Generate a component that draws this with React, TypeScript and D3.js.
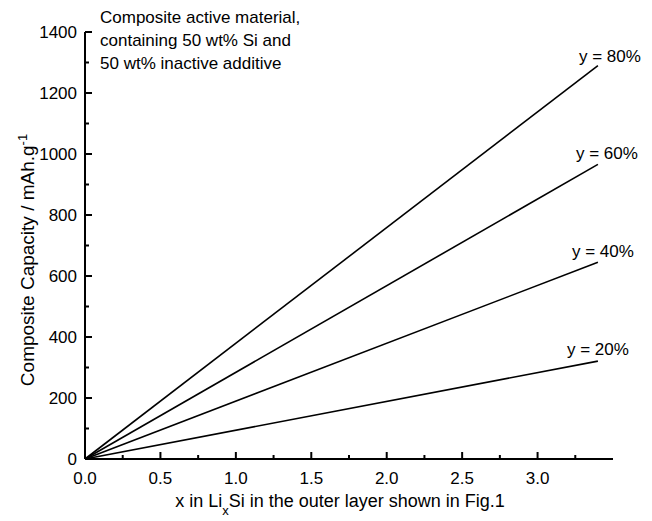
import React from 'react'
import * as d3 from 'd3'

// Li content in the outer layer (x in LixSi)
const xValues = [0, 3.4]
// composite capacity (mAh/g) for each inactive fraction y
const seriesNames = ['y = 20%', 'y = 40%', 'y = 60%', 'y = 80%']
const seriesValues = [
  [0, 321],
  [0, 645],
  [0, 966],
  [0, 1290],
]
const xTicks = [0, 0.5, 1.0, 1.5, 2.0, 2.5, 3.0]
const yTicks = [0, 200, 400, 600, 800, 1000, 1200, 1400]
const noteLines = [
  'Composite active material,',
  'containing 50 wt% Si and',
  '50 wt% inactive additive',
]

const W = 652
const H = 521
const FONT = '"Liberation Sans", Arial, Helvetica, sans-serif'

export default function App() {
  const x = d3.scaleLinear().domain([0, 3.5]).range([85, 613])
  const y = d3.scaleLinear().domain([0, 1400]).range([459, 32])

  const line = d3.line<number>()
    .x((_, i) => x(xValues[i]))
    .y(d => y(d))

  const xMinor = d3.range(0.25, 3.5, 0.5)
  const yMinor = d3.range(100, 1400, 200)

  // label positions picked next to the end of each line
  const labelPos = [
    { dx: -31, dy: -6 },
    { dx: -26, dy: -5 },
    { dx: -22, dy: -5 },
    { dx: -19, dy: -4 },
  ]

  return (
    <svg width={W} height={H} style={{ position: 'absolute', left: 0, top: 0, background: '#fff' }}
      fontFamily={FONT}>
      <rect width={W} height={H} fill="#fff" />

      {/* series */}
      {seriesValues.map((vals, i) => (
        <path key={i} d={line(vals) || ''} fill="none" stroke="#000" strokeWidth={1.6} />
      ))}
      {seriesNames.map((name, i) => {
        const last = seriesValues[i][seriesValues[i].length - 1]
        const px = x(xValues[xValues.length - 1])
        return (
          <text key={name} x={px + labelPos[i].dx} y={y(last) + labelPos[i].dy}
            fontSize={17} fill="#000">{name}</text>
        )
      })}

      {/* axes */}
      <line x1={x(0)} x2={x(3.5)} y1={y(0)} y2={y(0)} stroke="#000" strokeWidth={2} />
      <line x1={x(0)} x2={x(0)} y1={y(0)} y2={y(1400)} stroke="#000" strokeWidth={2} />

      {xTicks.map(t => (
        <g key={'xt' + t}>
          <line x1={x(t)} x2={x(t)} y1={y(0)} y2={y(0) - 7} stroke="#000" strokeWidth={2} />
          <text x={x(t)} y={484} textAnchor="middle" fontSize={17}>{t.toFixed(1)}</text>
        </g>
      ))}
      {xMinor.map(t => (
        <line key={'xm' + t} x1={x(t)} x2={x(t)} y1={y(0)} y2={y(0) - 4} stroke="#000" strokeWidth={2} />
      ))}

      {yTicks.map(t => (
        <g key={'yt' + t}>
          <line x1={x(0)} x2={x(0) + 7} y1={y(t)} y2={y(t)} stroke="#000" strokeWidth={2} />
          <text x={77} y={y(t) + 6} textAnchor="end" fontSize={17}>{t}</text>
        </g>
      ))}
      {yMinor.map(t => (
        <line key={'ym' + t} x1={x(0)} x2={x(0) + 4} y1={y(t)} y2={y(t)} stroke="#000" strokeWidth={2} />
      ))}

      {/* axis titles */}
      <text x={340} y={507} textAnchor="middle" fontSize={18}>
        x in Li<tspan baselineShift="sub" fontSize={13}>x</tspan>Si in the outer layer shown in Fig.1
      </text>
      <text transform={`translate(34,${260}) rotate(-90)`} textAnchor="middle" fontSize={19}>
        Composite Capacity / mAh.g<tspan baselineShift="super" fontSize={13}>-1</tspan>
      </text>

      {/* note */}
      {noteLines.map((t, i) => (
        <text key={t} x={100} y={23 + i * 23} fontSize={17}>{t}</text>
      ))}
    </svg>
  )
}
